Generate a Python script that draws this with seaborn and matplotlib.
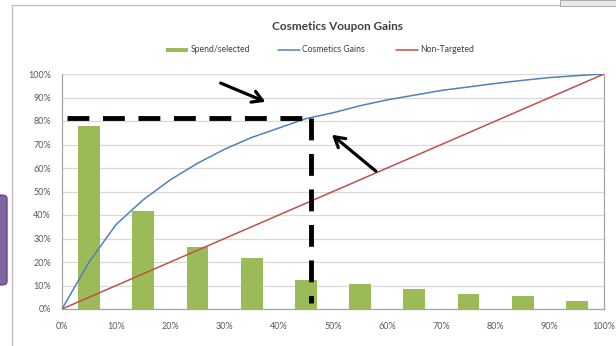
import matplotlib
matplotlib.use("Agg")
import matplotlib.pyplot as plt
from matplotlib.patches import Rectangle, FancyBboxPatch, FancyArrowPatch
import seaborn as sns
import pandas as pd

# ---- data ----
bar_pos = [5, 15, 25, 35, 45, 55, 65, 75, 85, 95]
spend_selected = [78, 41.5, 26.5, 21.5, 12.5, 10.5, 8.5, 6.5, 5.5, 3.5]
gain_x = [0, 5, 10, 15, 20, 25, 30, 35, 40, 45, 50, 55, 60, 65, 70, 75, 80, 85, 90, 95, 100]
gain_y = [0, 20, 36, 46.5, 55, 62, 68, 73, 77, 81, 83.5, 86.5, 89, 91, 93, 94.5, 96, 97.3, 98.5, 99.3, 100]
base_x = [0, 100]
base_y = [0, 100]
tick_vals = [0, 10, 20, 30, 40, 50, 60, 70, 80, 90, 100]
tick_labels = [f"{v}%" for v in tick_vals]
title = "Cosmetics Voupon Gains"
labels = ["Spend/selected", "Cosmetics Gains", "Non-Targeted"]
cut_x = 45.9
cut_y = 81.3

sns.set_theme(style="white")
plt.rcParams['font.family'] = ['Lato', 'DejaVu Sans']

W, H = 616, 346
fig = plt.figure(figsize=(W / 100, H / 100), dpi=100)
ax = fig.add_axes([62 / W, 1 - 309 / H, (604 - 62) / W, (309 - 74) / H])

green = "#9BBB59"
blue = "#4F81BD"
red = "#C0504D"
grid = "#D9D9D9"
axc = "#A6A6A6"
txt = "#595959"

bars_df = pd.DataFrame({"x": bar_pos, "y": spend_selected})
sns.barplot(data=bars_df, x="x", y="y", native_scale=True, width=0.4,
            color=green, saturation=1, ax=ax, zorder=2, edgecolor="none")
gains_df = pd.DataFrame({"x": gain_x, "y": gain_y})
sns.lineplot(data=gains_df, x="x", y="y", color=blue, lw=1.1, ax=ax, zorder=3)
base_df = pd.DataFrame({"x": base_x, "y": base_y})
sns.lineplot(data=base_df, x="x", y="y", color=red, lw=1.1, ax=ax, zorder=3)

ax.set_xlim(0, 100)
ax.set_ylim(0, 100)
ax.set_xticks(tick_vals)
ax.set_xticklabels(tick_labels)
ax.set_yticks(tick_vals)
ax.set_yticklabels(tick_labels)
ax.set_xlabel("")
ax.set_ylabel("")
ax.tick_params(axis="both", labelsize=6.5, colors=txt, length=0, pad=8)
ax.tick_params(axis="x", length=3, direction="inout", color=axc, pad=8)
ax.yaxis.grid(True, color=grid, lw=0.9, zorder=0)
ax.set_axisbelow(True)
for s in ["left", "bottom", "right"]:
    ax.spines[s].set_color(axc)
    ax.spines[s].set_linewidth(0.9)
ax.spines["top"].set_visible(False)

# dashed cut-off lines
ax.plot([0.9, cut_x], [cut_y, cut_y], color="black", lw=3.5, ls=(0, (4.5, 2.8)),
        zorder=5, solid_capstyle="butt", dash_capstyle="butt")
ax.plot([cut_x, cut_x], [cut_y, 2.5], color="black", lw=3.5, ls=(0, (4.5, 2.8)),
        zorder=5, dash_capstyle="butt")

# arrows
for (x0, y0), (x1, y1) in [((28.8, 96.6), (38.0, 87.7)), ((58.3, 57.9), (49.4, 74.9))]:
    ax.annotate("", xy=(x1, y1), xytext=(x0, y0),
                arrowprops=dict(arrowstyle="->,head_length=0.6,head_width=0.35",
                                color="black", lw=2.3), zorder=6)

# title and legend
fig.text(338 / W, 1 - 27 / H, title, ha="center", va="center", fontsize=8.5,
         fontweight="bold", color="#404040")
ly = 1 - 50 / H
fig.patches.append(Rectangle((166 / W, ly - 2 / H), 22 / W, 4 / H, transform=fig.transFigure,
                             facecolor=green, edgecolor="none"))
fig.text(191 / W, ly, labels[0], ha="left", va="center", fontsize=6.2, color="#404040")
fig.lines.append(plt.Line2D([278 / W, 300 / W], [ly, ly], transform=fig.transFigure, color=blue, lw=1.1))
fig.text(302 / W, ly, labels[1], ha="left", va="center", fontsize=6.2, color="#404040")
fig.lines.append(plt.Line2D([396 / W, 418 / W], [ly, ly], transform=fig.transFigure, color=red, lw=1.1))
fig.text(420 / W, ly, labels[2], ha="left", va="center", fontsize=6.2, color="#404040")

# chart border and decorations
fig.patches.append(Rectangle((12 / W, -0.02), 1.0, (346 - 5) / H + 0.02, transform=fig.transFigure,
                             facecolor="none", edgecolor="#BFBFBF", lw=1.0))
fig.patches.append(FancyBboxPatch((-6 / W, 1 - 285 / H), 13 / W, 90 / H, transform=fig.transFigure,
                                  boxstyle="round,pad=0,rounding_size=0.01",
                                  facecolor="#8064A2", edgecolor="#5F4B8B", lw=1.0))
fig.patches.append(Rectangle((560 / W, 1 - 6 / H), 56 / W, 6 / H, transform=fig.transFigure,
                             facecolor="#E8E8E8", edgecolor="#A0A0A0", lw=0.6))

fig.savefig("out.png", dpi=100)
